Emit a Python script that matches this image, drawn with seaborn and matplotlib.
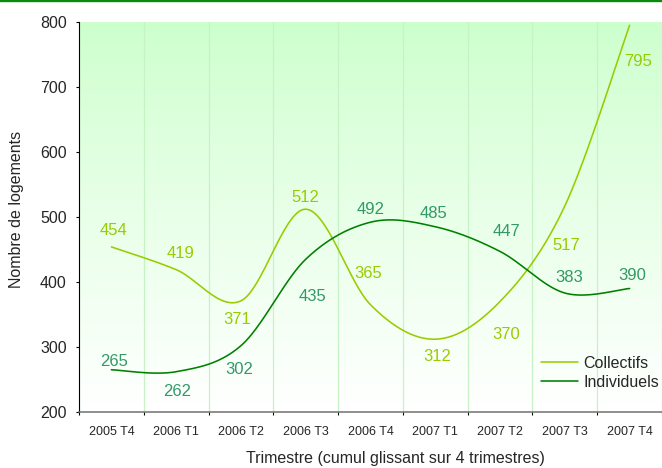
import numpy as np
import pandas as pd
import matplotlib
matplotlib.use("Agg")
import matplotlib.pyplot as plt
from matplotlib.lines import Line2D
import seaborn as sns

# ---- data ----
trimestres = ["2005 T4", "2006 T1", "2006 T2", "2006 T3", "2006 T4",
              "2007 T1", "2007 T2", "2007 T3", "2007 T4"]
collectifs = [454, 419, 371, 512, 365, 312, 370, 517, 795]
individuels = [265, 262, 302, 435, 492, 485, 447, 383, 390]
series_names = ["Collectifs", "Individuels"]
y_ticks = [200, 300, 400, 500, 600, 700, 800]

# label offsets (pixels: dx right, dy up)
off_coll = [(2.5, 18), (4, 18), (-4, -17), (0, 13), (-2, 33), (2, -16), (6, -31.5), (1, -38), (8, -35)]
off_ind = [(2.5, 10), (1, -18), (-2, -22), (6.5, -36), (0, 14), (-2, 15), (6, 21), (4, 17), (2.5, 14.5)]

col_coll = "#99cc00"
col_ind = "#008000"
lab_coll = "#99cc00"
lab_ind = "#339966"


def bezier_smooth(xs, ys, n=40):
    P = np.column_stack([xs, ys]).astype(float)
    out = []
    m = len(P)
    for i in range(m - 1):
        p0 = P[i - 1] if i > 0 else P[i]
        p1 = P[i]
        p2 = P[i + 1]
        p3 = P[i + 2] if i + 2 < m else P[i + 1]
        c1 = p1 + (p2 - p0) / 6.0
        c2 = p2 - (p3 - p1) / 6.0
        t = np.linspace(0, 1, n, endpoint=(i == m - 2))[:, None]
        seg = ((1 - t) ** 3) * p1 + 3 * (1 - t) ** 2 * t * c1 + 3 * (1 - t) * t ** 2 * c2 + t ** 3 * p2
        out.append(seg)
    return np.vstack(out)


sns.set_theme(style="ticks")
plt.rcParams["font.family"] = ["Liberation Sans", "DejaVu Sans"]

fig = plt.figure(figsize=(6.62, 4.68), dpi=100)
ax = fig.add_axes([79 / 662, 56 / 468, 583 / 662, 390 / 468])

xpos = np.arange(len(trimestres))
frames = []
for name, vals in zip(series_names, [collectifs, individuels]):
    sm = bezier_smooth(xpos, vals)
    frames.append(pd.DataFrame({"x": sm[:, 0], "y": sm[:, 1], "serie": name}))
df = pd.concat(frames, ignore_index=True)

# gradient background
grad = (np.linspace(0, 1, 256) ** 0.85)[:, None]
top = np.array([204, 255, 204]) / 255
bot = np.array([255, 255, 255]) / 255
img = top[None, None, :] * (1 - grad[:, :, None]) + bot[None, None, :] * grad[:, :, None]
ax.imshow(img, extent=[-0.5, len(trimestres) - 0.5, 200, 800], aspect="auto", zorder=0,
          origin="upper")

sns.lineplot(data=df, x="x", y="y", hue="serie", palette={"Collectifs": col_coll, "Individuels": col_ind},
             sort=False, estimator=None, linewidth=1.15, ax=ax, zorder=3)

ax.set_xlim(-0.5, len(trimestres) - 0.5)
ax.set_ylim(200, 800)

# labels on points
for vals, offs, c in [(collectifs, off_coll, lab_coll), (individuels, off_ind, lab_ind)]:
    for i, (v, (dx, dy)) in enumerate(zip(vals, offs)):
        ax.annotate(str(v), (i, v), xytext=(dx, dy - 1.5), textcoords="offset pixels",
                    ha="center", va="center", fontsize=12, color=c, zorder=4)

# ticks
ax.set_xticks(xpos)
ax.set_xticklabels(trimestres, fontsize=9)
ax.set_xticks(np.arange(-0.5, len(trimestres), 1.0), minor=True)
ax.tick_params(axis="x", which="major", length=0, pad=10)
ax.tick_params(axis="x", which="minor", length=2.5, width=0.8, color="#000000", direction="out")
ax.set_yticks(y_ticks)
ax.set_yticklabels([str(v) for v in y_ticks], fontsize=11.5)
ax.tick_params(axis="y", length=2.3, width=0.8, color="#000000", pad=6.5, direction="out")
ax.grid(False)
ax.grid(which="minor", axis="x", color="#c6f2c6", linewidth=0.9, zorder=1)
ax.set_axisbelow(True)

for s in ["top", "right"]:
    ax.spines[s].set_visible(False)
ax.spines["left"].set_color("#000000")
ax.spines["left"].set_linewidth(0.8)
ax.spines["bottom"].set_color("#707070")
ax.spines["bottom"].set_linewidth(1.1)

ax.set_xlabel("Trimestre (cumul glissant sur 4 trimestres)", fontsize=11.5)
ax.set_ylabel("Nombre de logements", fontsize=11.5)
ax.xaxis.set_label_coords(0.542, -0.10)
ax.yaxis.set_label_coords(-0.095, 0.52)

handles, labels = ax.get_legend_handles_labels()
hl = [(h, l) for h, l in zip(handles, labels) if l in series_names]
leg = ax.legend([h for h, _ in hl], [l for _, l in hl], loc="center left",
                bbox_to_anchor=(541 / 662, 1 - 373 / 468), bbox_transform=fig.transFigure,
                frameon=False, fontsize=11.5, handlelength=2.3, handletextpad=0.35,
                labelspacing=0.25, borderpad=0, borderaxespad=0)

fig.add_artist(Line2D([0, 1], [1 - 1.2 / 468, 1 - 1.2 / 468], color="#0a8a0a", linewidth=1.7,
                      transform=fig.transFigure))

fig.savefig("out.png", dpi=100)
